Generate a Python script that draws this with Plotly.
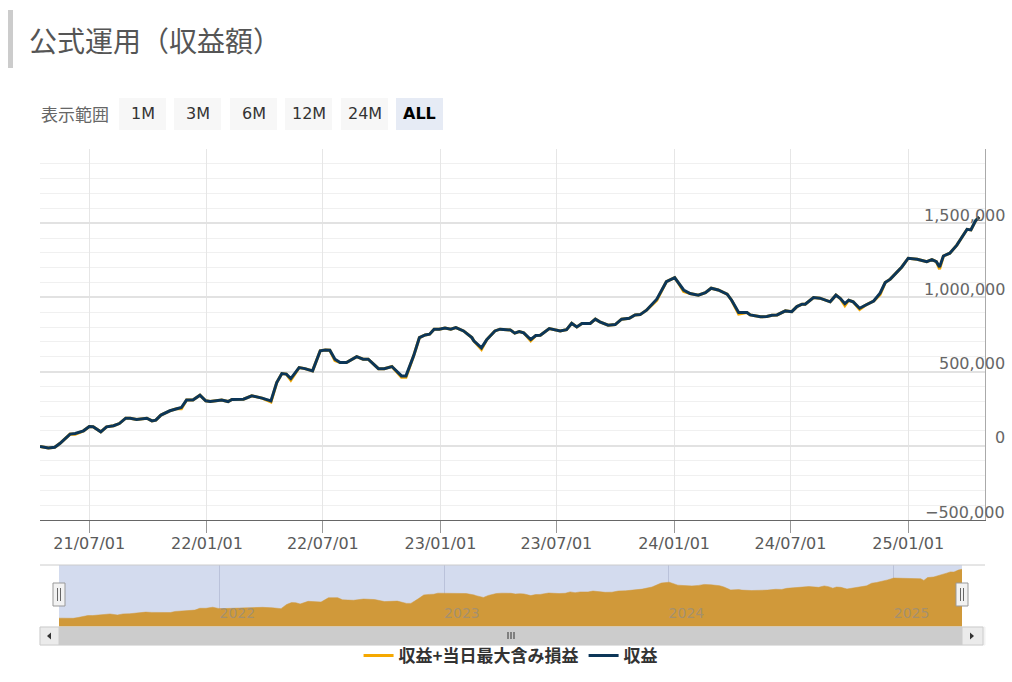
import plotly.graph_objects as go

# ---------------- data ----------------
DATES = [
    "2021-04-15", "2021-04-28", "2021-05-08", "2021-05-16", "2021-06-01", "2021-06-09", "2021-06-22", "2021-07-01", "2021-07-07", "2021-07-19",
    "2021-07-28", "2021-08-08", "2021-08-17", "2021-08-27", "2021-09-03", "2021-09-13", "2021-09-29", "2021-10-07", "2021-10-13", "2021-10-21",
    "2021-11-04", "2021-11-15", "2021-11-22", "2021-11-30", "2021-12-10", "2021-12-21", "2021-12-30", "2022-01-06", "2022-01-24", "2022-02-03",
    "2022-02-09", "2022-02-27", "2022-03-12", "2022-03-28", "2022-04-11", "2022-04-20", "2022-04-28", "2022-05-05", "2022-05-12", "2022-05-25",
    "2022-06-03", "2022-06-15", "2022-06-27", "2022-07-05", "2022-07-12", "2022-07-20", "2022-07-28", "2022-08-07", "2022-08-23", "2022-09-02",
    "2022-09-10", "2022-09-26", "2022-10-05", "2022-10-17", "2022-11-01", "2022-11-08", "2022-11-20", "2022-11-29", "2022-12-08", "2022-12-15",
    "2022-12-22", "2022-12-30", "2023-01-08", "2023-01-17", "2023-01-25", "2023-02-06", "2023-02-19", "2023-02-22", "2023-03-06", "2023-03-14",
    "2023-03-27", "2023-04-04", "2023-04-20", "2023-04-27", "2023-05-04", "2023-05-11", "2023-05-22", "2023-05-30", "2023-06-06", "2023-06-20",
    "2023-07-07", "2023-07-17", "2023-07-25", "2023-08-02", "2023-08-10", "2023-08-23", "2023-08-31", "2023-09-07", "2023-09-20", "2023-10-01",
    "2023-10-11", "2023-10-23", "2023-11-01", "2023-11-09", "2023-11-19", "2023-12-05", "2023-12-20", "2024-01-02", "2024-01-09", "2024-01-16",
    "2024-01-26", "2024-02-08", "2024-02-19", "2024-02-28", "2024-03-10", "2024-03-24", "2024-03-31", "2024-04-11", "2024-04-24", "2024-04-29",
    "2024-05-15", "2024-05-25", "2024-06-02", "2024-06-10", "2024-06-23", "2024-07-03", "2024-07-11", "2024-07-19", "2024-07-24", "2024-08-06",
    "2024-08-16", "2024-09-01", "2024-09-10", "2024-09-17", "2024-09-24", "2024-09-30", "2024-10-07", "2024-10-17", "2024-10-26", "2024-11-08",
    "2024-11-18", "2024-11-26", "2024-12-04", "2024-12-22", "2025-01-01", "2025-01-15", "2025-01-30", "2025-02-07", "2025-02-14", "2025-02-19",
    "2025-02-25", "2025-03-07", "2025-03-18", "2025-03-28", "2025-04-03", "2025-04-09", "2025-04-16", "2025-04-22",
]

# 収益
PROFIT = [
    -5000, -15000, -10000, 15000, 79000, 83000, 101000, 130000, 128000, 94000,
    128000, 135000, 150000, 186000, 186000, 177000, 186000, 168000, 173000, 207000,
    236000, 251000, 258000, 308000, 308000, 341000, 303000, 298000, 308000, 298000,
    312000, 314000, 337000, 321000, 303000, 426000, 487000, 483000, 453000, 527000,
    520000, 505000, 640000, 646000, 644000, 584000, 561000, 561000, 601000, 584000,
    584000, 520000, 520000, 534000, 471000, 471000, 606000, 729000, 747000, 752000,
    786000, 786000, 793000, 786000, 797000, 774000, 729000, 707000, 660000, 714000,
    774000, 786000, 781000, 759000, 770000, 761000, 716000, 743000, 745000, 790000,
    774000, 783000, 826000, 801000, 824000, 824000, 853000, 835000, 813000, 817000,
    853000, 860000, 882000, 884000, 914000, 988000, 1106000, 1133000, 1089000, 1050000,
    1026000, 1015000, 1032000, 1062000, 1050000, 1022000, 981000, 898000, 898000, 882000,
    869000, 871000, 880000, 882000, 909000, 904000, 938000, 954000, 954000, 999000,
    995000, 970000, 1015000, 992000, 958000, 981000, 970000, 927000, 947000, 976000,
    1028000, 1100000, 1123000, 1205000, 1264000, 1257000, 1241000, 1255000, 1241000, 1205000,
    1279000, 1298000, 1352000, 1419000, 1459000, 1455000, 1515000, 1542000,
]

# 収益+当日最大含み損益
PROFIT_MAXLOSS = [
    -5000, -15000, -10000, 15000, 79000, 78000, 101000, 130000, 128000, 94000,
    128000, 135000, 150000, 186000, 186000, 177000, 186000, 168000, 173000, 207000,
    236000, 251000, 250000, 308000, 308000, 341000, 303000, 298000, 308000, 298000,
    312000, 314000, 337000, 321000, 296000, 426000, 487000, 483000, 443000, 527000,
    520000, 505000, 640000, 646000, 644000, 574000, 561000, 561000, 601000, 584000,
    584000, 520000, 520000, 534000, 462000, 462000, 606000, 729000, 747000, 752000,
    786000, 786000, 793000, 786000, 797000, 774000, 729000, 707000, 650000, 714000,
    774000, 786000, 781000, 759000, 770000, 761000, 708000, 743000, 745000, 790000,
    774000, 783000, 826000, 801000, 824000, 824000, 853000, 835000, 813000, 817000,
    853000, 860000, 882000, 884000, 914000, 980000, 1106000, 1133000, 1089000, 1040000,
    1026000, 1015000, 1032000, 1062000, 1050000, 1022000, 981000, 888000, 898000, 882000,
    869000, 871000, 880000, 882000, 909000, 904000, 938000, 954000, 954000, 999000,
    995000, 970000, 1015000, 992000, 945000, 981000, 970000, 918000, 947000, 976000,
    1018000, 1100000, 1123000, 1205000, 1264000, 1257000, 1241000, 1255000, 1241000, 1190000,
    1279000, 1298000, 1352000, 1419000, 1459000, 1455000, 1515000, 1542000,
]

SERIES_NAMES = ["収益+当日最大含み損益", "収益"]
X_TICKS = ["2021-07-01", "2022-01-01", "2022-07-01", "2023-01-01",
           "2023-07-01", "2024-01-01", "2024-07-01", "2025-01-01"]
Y_TICKS = [-500000, 0, 500000, 1000000, 1500000, 2000000]
Y_LABEL_TICKS = [-500000, 0, 500000, 1000000, 1500000]
Y_LABEL_TEXT = ["−500,000", "0", "500,000", "1,000,000", "1,500,000"]
RANGE_BUTTONS = ["1M", "3M", "6M", "12M", "24M", "ALL"]
TITLE = "公式運用（収益額）"
RANGE_LABEL = "表示範囲"

X_RANGE = ["2021-04-15", "2025-05-01"]
Y_RANGE = [-500000, 2000000]
NAV_Y_RANGE = [-285000, 1677000]

# ---------------- geometry helpers ----------------
W, H = 1012, 682
FONT = "Noto Sans CJK JP"
NUM_FONT = "DejaVu Sans"


def px(x):
    return x / W


def py(y):
    return 1 - y / H


ORANGE = "#f5a800"
NAVY = "#0c3658"

fig = go.Figure()

# main series
fig.add_trace(go.Scatter(
    x=DATES, y=PROFIT_MAXLOSS, name=SERIES_NAMES[0], mode="lines",
    line=dict(color=ORANGE, width=3), xaxis="x", yaxis="y"))
fig.add_trace(go.Scatter(
    x=DATES, y=PROFIT, name=SERIES_NAMES[1], mode="lines",
    line=dict(color=NAVY, width=3), xaxis="x", yaxis="y"))

# navigator series (area to the bottom of the navigator)
fig.add_trace(go.Scatter(
    x=[DATES[0], DATES[-1]], y=[NAV_Y_RANGE[0], NAV_Y_RANGE[0]], mode="lines",
    line=dict(width=0, color="rgba(0,0,0,0)"), showlegend=False, hoverinfo="skip",
    xaxis="x2", yaxis="y2"))
fig.add_trace(go.Scatter(
    x=DATES, y=PROFIT_MAXLOSS, mode="lines", fill="tonexty",
    fillcolor="#d0993a", line=dict(width=0.5, color="#d0993a"),
    showlegend=False, hoverinfo="skip", xaxis="x2", yaxis="y2"))

shapes = []
annotations = []

# title bar + title
shapes.append(dict(type="rect", xref="paper", yref="paper",
                   x0=px(8), x1=px(13), y0=py(68), y1=py(10),
                   fillcolor="#cccccc", line=dict(width=0)))
annotations.append(dict(text=TITLE, x=px(27), y=py(40), xref="paper", yref="paper",
                        xanchor="left", yanchor="middle", showarrow=False,
                        font=dict(family=FONT, size=28, color="#555555")))

# range selector
annotations.append(dict(text=RANGE_LABEL, x=px(39), y=py(114), xref="paper", yref="paper",
                        xanchor="left", yanchor="middle", showarrow=False,
                        font=dict(family=FONT, size=17, color="#666666")))
btn_x = [119, 174, 230, 285, 341, 396]
for i, lab in enumerate(RANGE_BUTTONS):
    active = lab == "ALL"
    x0 = btn_x[i]
    x1 = x0 + 47
    shapes.append(dict(type="rect", xref="paper", yref="paper",
                       x0=px(x0), x1=px(x1), y0=py(130), y1=py(98),
                       fillcolor="#e6ebf5" if active else "#f7f7f7",
                       line=dict(width=0)))
    annotations.append(dict(text=f"<b>{lab}</b>" if active else lab,
                            x=px((x0 + x1) / 2), y=py(114), xref="paper", yref="paper",
                            xanchor="center", yanchor="middle", showarrow=False,
                            font=dict(family=NUM_FONT, size=16,
                                      color="#000000" if active else "#333333")))

# y-axis labels (right side, overlapping the axis line, above each grid line)
for v, t in zip(Y_LABEL_TICKS, Y_LABEL_TEXT):
    annotations.append(dict(text=t, x=px(1007), y=v, xref="paper", yref="y",
                            xanchor="right", yanchor="middle", yshift=8,
                            showarrow=False,
                            font=dict(family=NUM_FONT, size=16, color="#666666")))

# navigator mask + outline
shapes.append(dict(type="rect", xref="paper", yref="paper", layer="below",
                   x0=px(59), x1=px(962), y0=py(627), y1=py(565),
                   fillcolor="#d3dbee", line=dict(width=0)))
shapes.append(dict(type="line", xref="paper", yref="paper",
                   x0=px(40), x1=px(985), y0=py(565), y1=py(565),
                   line=dict(color="#cccccc", width=1)))

# scrollbar
shapes.append(dict(type="rect", xref="paper", yref="paper",
                   x0=px(40), x1=px(985), y0=py(645), y1=py(627),
                   fillcolor="#f2f2f2", line=dict(width=1, color="#f2f2f2")))
shapes.append(dict(type="rect", xref="paper", yref="paper",
                   x0=px(59), x1=px(962), y0=py(645), y1=py(627),
                   fillcolor="#cccccc", line=dict(width=1, color="#cccccc")))
for bx0, bx1 in [(40, 59), (962, 983)]:
    shapes.append(dict(type="rect", xref="paper", yref="paper",
                       x0=px(bx0), x1=px(bx1), y0=py(645), y1=py(627),
                       fillcolor="#ebebeb", line=dict(width=1, color="#cccccc")))


def tri(points):
    p = "M " + " L ".join(f"{px(a):.5f},{py(b):.5f}" for a, b in points) + " Z"
    return dict(type="path", xref="paper", yref="paper", path=p,
                fillcolor="#333333", line=dict(width=0))


shapes.append(tri([(47, 636), (51, 632.5), (51, 639.5)]))
shapes.append(tri([(974, 636), (970, 632.5), (970, 639.5)]))
for gx in [508, 511, 514]:
    shapes.append(dict(type="line", xref="paper", yref="paper",
                       x0=px(gx), x1=px(gx), y0=py(632), y1=py(639),
                       line=dict(color="#333333", width=1)))

# navigator handles
for hc in [59, 962]:
    shapes.append(dict(type="rect", xref="paper", yref="paper",
                       x0=px(hc - 6), x1=px(hc + 6), y0=py(606), y1=py(583),
                       fillcolor="#f2f2f2", line=dict(width=1, color="#999999")))
    for lx in [hc - 1.5, hc + 1.5]:
        shapes.append(dict(type="line", xref="paper", yref="paper",
                           x0=px(lx), x1=px(lx), y0=py(601), y1=py(588),
                           line=dict(color="#666666", width=1)))

fig.update_layout(
    width=W, height=H, autosize=False,
    margin=dict(l=0, r=0, t=0, b=0),
    paper_bgcolor="white", plot_bgcolor="white",
    font=dict(family=FONT),
    showlegend=True,
    legend=dict(orientation="h", traceorder="normal",
                x=0.505, xanchor="center", y=py(656), yanchor="middle",
                font=dict(family=FONT, size=17, color="#333333", weight="bold"),
                bgcolor="rgba(0,0,0,0)", itemclick=False, itemdoubleclick=False),
    xaxis=dict(
        domain=[px(40), px(985)], anchor="y", type="date", range=X_RANGE,
        tickmode="array", tickvals=X_TICKS, tickformat="%y/%m/%d",
        ticks="outside", ticklen=12, tickwidth=1, tickcolor="#999999",
        ticklabelstandoff=-3,
        showline=True, linecolor="#666666", linewidth=1,
        showgrid=True, gridcolor="#e6e6e6", gridwidth=1, zeroline=False,
        tickfont=dict(family=NUM_FONT, size=16, color="#5a5a5a"),
    ),
    yaxis=dict(
        domain=[py(520), py(149)], anchor="x", side="right", range=Y_RANGE,
        tickmode="array", tickvals=Y_TICKS, showticklabels=False,
        ticks="", showline=True, linecolor="#aaaaaa", linewidth=1,
        showgrid=True, gridcolor="#e2e2e2", gridwidth=2, zeroline=False,
        minor=dict(tickmode="linear", tick0=0, dtick=100000, showgrid=True,
                   gridcolor="#f0f0f0", gridwidth=1, ticks=""),
    ),
    xaxis2=dict(
        domain=[px(59), px(962)], anchor="y2", type="date",
        range=[DATES[0], DATES[-1]],
        tick0="2022-01-01", dtick="M12", tickformat="%Y",
        ticklabelposition="inside right", ticks="",
        showgrid=True, gridcolor="rgba(140,150,180,0.35)", gridwidth=1,
        showline=False, zeroline=False,
        tickfont=dict(family=NUM_FONT, size=14, color="rgba(140,140,140,0.65)"),
    ),
    yaxis2=dict(
        domain=[py(627), py(565)], anchor="x2", range=NAV_Y_RANGE,
        visible=False, showgrid=False, zeroline=False,
    ),
    shapes=shapes,
    annotations=annotations,
)

fig.write_html(
    "out.html",
    config={"displayModeBar": False},
    post_script="document.body.style.margin='0';document.body.style.overflow='hidden';",
)
